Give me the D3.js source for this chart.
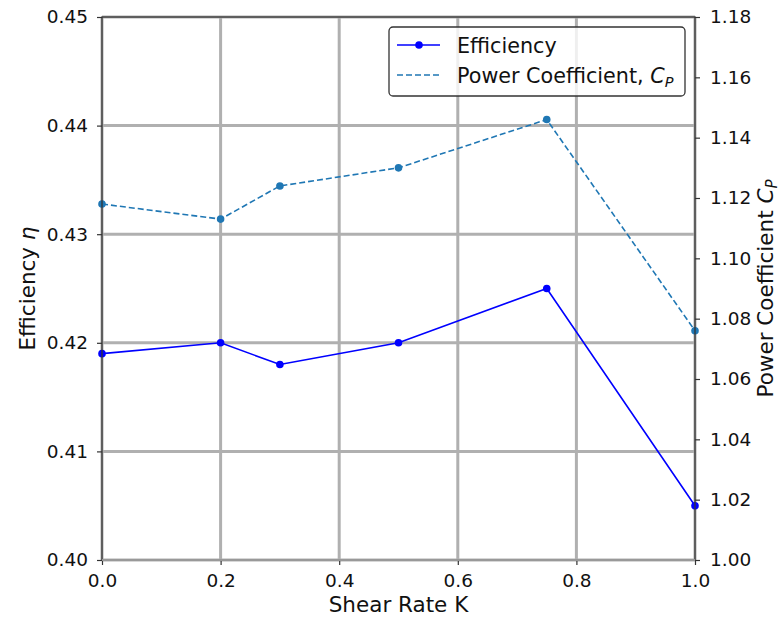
<!DOCTYPE html>
<html>
<head>
<meta charset="utf-8">
<script src="https://cdn.jsdelivr.net/npm/d3@7"></script>
<style>
  body { margin: 0; background: #fff; }
  text { font-family: "DejaVu Sans", sans-serif; fill: #111; }
</style>
</head>
<body>
<svg id="chart" width="780" height="617"></svg>
<script>
// data
const shearRate = [0.0, 0.2, 0.3, 0.5, 0.75, 1.0];
const efficiency = [0.419, 0.420, 0.418, 0.420, 0.425, 0.405];
const powerCoef = [1.118, 1.113, 1.124, 1.130, 1.146, 1.076];
const xTicks = [0.0, 0.2, 0.4, 0.6, 0.8, 1.0];
const yLeftTicks = [0.40, 0.41, 0.42, 0.43, 0.44, 0.45];
const yRightTicks = [1.00, 1.02, 1.04, 1.06, 1.08, 1.10, 1.12, 1.14, 1.16, 1.18];

const svg = d3.select("#chart");
const pL = 102, pR = 695, pT = 17, pB = 560;

const x = d3.scaleLinear().domain([0, 1]).range([pL, pR]);
const yL = d3.scaleLinear().domain([0.40, 0.45]).range([pB, pT]);
const yR = d3.scaleLinear().domain([1.00, 1.18]).range([pB, pT]);

// grid
const grid = svg.append("g");
grid.selectAll(".gx").data(xTicks).enter().append("line")
  .attr("x1", d => x(d)).attr("x2", d => x(d))
  .attr("y1", pT).attr("y2", pB)
  .attr("stroke", "#b0b0b0").attr("stroke-width", 3);
grid.selectAll(".gy").data(yLeftTicks).enter().append("line")
  .attr("x1", pL).attr("x2", pR)
  .attr("y1", d => yL(d)).attr("y2", d => yL(d))
  .attr("stroke", "#b0b0b0").attr("stroke-width", 3);

// series
const effLine = d3.line().x((d, i) => x(shearRate[i])).y(d => yL(d));
const cpLine = d3.line().x((d, i) => x(shearRate[i])).y(d => yR(d));

svg.append("path").datum(efficiency)
  .attr("d", effLine).attr("fill", "none")
  .attr("stroke", "#0000ff").attr("stroke-width", 1.6);
svg.selectAll(".effpt").data(efficiency).enter().append("circle")
  .attr("cx", (d, i) => x(shearRate[i])).attr("cy", d => yL(d))
  .attr("r", 3.8).attr("fill", "#0000ff");

svg.append("path").datum(powerCoef)
  .attr("d", cpLine).attr("fill", "none")
  .attr("stroke", "#1f77b4").attr("stroke-width", 1.6)
  .attr("stroke-dasharray", "6,3");
svg.selectAll(".cppt").data(powerCoef).enter().append("circle")
  .attr("cx", (d, i) => x(shearRate[i])).attr("cy", d => yR(d))
  .attr("r", 3.8).attr("fill", "#1f77b4");

// axes
const fmt2 = d3.format(".2f");
const axB = svg.append("g").attr("transform", `translate(0,${pB})`)
  .call(d3.axisBottom(x).tickValues(xTicks).tickFormat(d3.format(".1f")).tickSize(5).tickPadding(9));
const axL = svg.append("g").attr("transform", `translate(${pL},0)`)
  .call(d3.axisLeft(yL).tickValues(yLeftTicks).tickFormat(fmt2).tickSize(5).tickPadding(9));
const axR = svg.append("g").attr("transform", `translate(${pR},0)`)
  .call(d3.axisRight(yR).tickValues(yRightTicks).tickFormat(fmt2).tickSize(5).tickPadding(10));
[axB, axL, axR].forEach(a => {
  a.select(".domain").remove();
  a.selectAll("line").attr("stroke", "#333").attr("stroke-width", 1.2);
  a.selectAll("text").style("font-size", "18.5px").attr("fill", "#111");
});

// spines
svg.append("rect").attr("x", pL).attr("y", pT)
  .attr("width", pR - pL).attr("height", pB - pT)
  .attr("fill", "none").attr("stroke", "#333").attr("stroke-width", 1.3);
svg.append("line").attr("x1", pL).attr("x2", pR).attr("y1", pB).attr("y2", pB)
  .attr("stroke", "#999").attr("stroke-width", 2);

// axis labels
svg.append("text").attr("x", (pL + pR) / 2).attr("y", 612)
  .attr("text-anchor", "middle").style("font-size", "21.5px").text("Shear Rate K");

const ylab = svg.append("text").attr("transform", `translate(35,${(pT + pB) / 2}) rotate(-90)`)
  .attr("text-anchor", "middle").style("font-size", "21.5px");
ylab.append("tspan").text("Efficiency ");
ylab.append("tspan").style("font-style", "italic").text("η");

const rlab = svg.append("text").attr("transform", `translate(773,${(pT + pB) / 2}) rotate(-90)`)
  .attr("text-anchor", "middle").style("font-size", "21.5px");
rlab.append("tspan").text("Power Coefficient ");
rlab.append("tspan").style("font-style", "italic").text("C");
rlab.append("tspan").style("font-style", "italic").style("font-size", "15px").attr("dy", 4).text("P");

// legend
const lg = svg.append("g").attr("transform", "translate(389,27)");
lg.append("rect").attr("width", 296).attr("height", 69).attr("rx", 4)
  .attr("fill", "#fff").attr("fill-opacity", 0.8)
  .attr("stroke", "#333").attr("stroke-width", 1.3);
lg.append("line").attr("x1", 8).attr("x2", 51).attr("y1", 18).attr("y2", 18)
  .attr("stroke", "#0000ff").attr("stroke-width", 1.6);
lg.append("circle").attr("cx", 30).attr("cy", 18).attr("r", 3.8).attr("fill", "#0000ff");
lg.append("text").attr("x", 68).attr("y", 25.5).style("font-size", "20.7px").text("Efficiency");
lg.append("line").attr("x1", 8).attr("x2", 51).attr("y1", 48).attr("y2", 48)
  .attr("stroke", "#1f77b4").attr("stroke-width", 1.6).attr("stroke-dasharray", "6,3");
const lt = lg.append("text").attr("x", 68).attr("y", 55.5).style("font-size", "20.7px");
lt.append("tspan").text("Power Coefficient, ");
lt.append("tspan").style("font-style", "italic").text("C");
lt.append("tspan").style("font-style", "italic").style("font-size", "14.5px").attr("dy", 4).text("P");
</script>
</body>
</html>
